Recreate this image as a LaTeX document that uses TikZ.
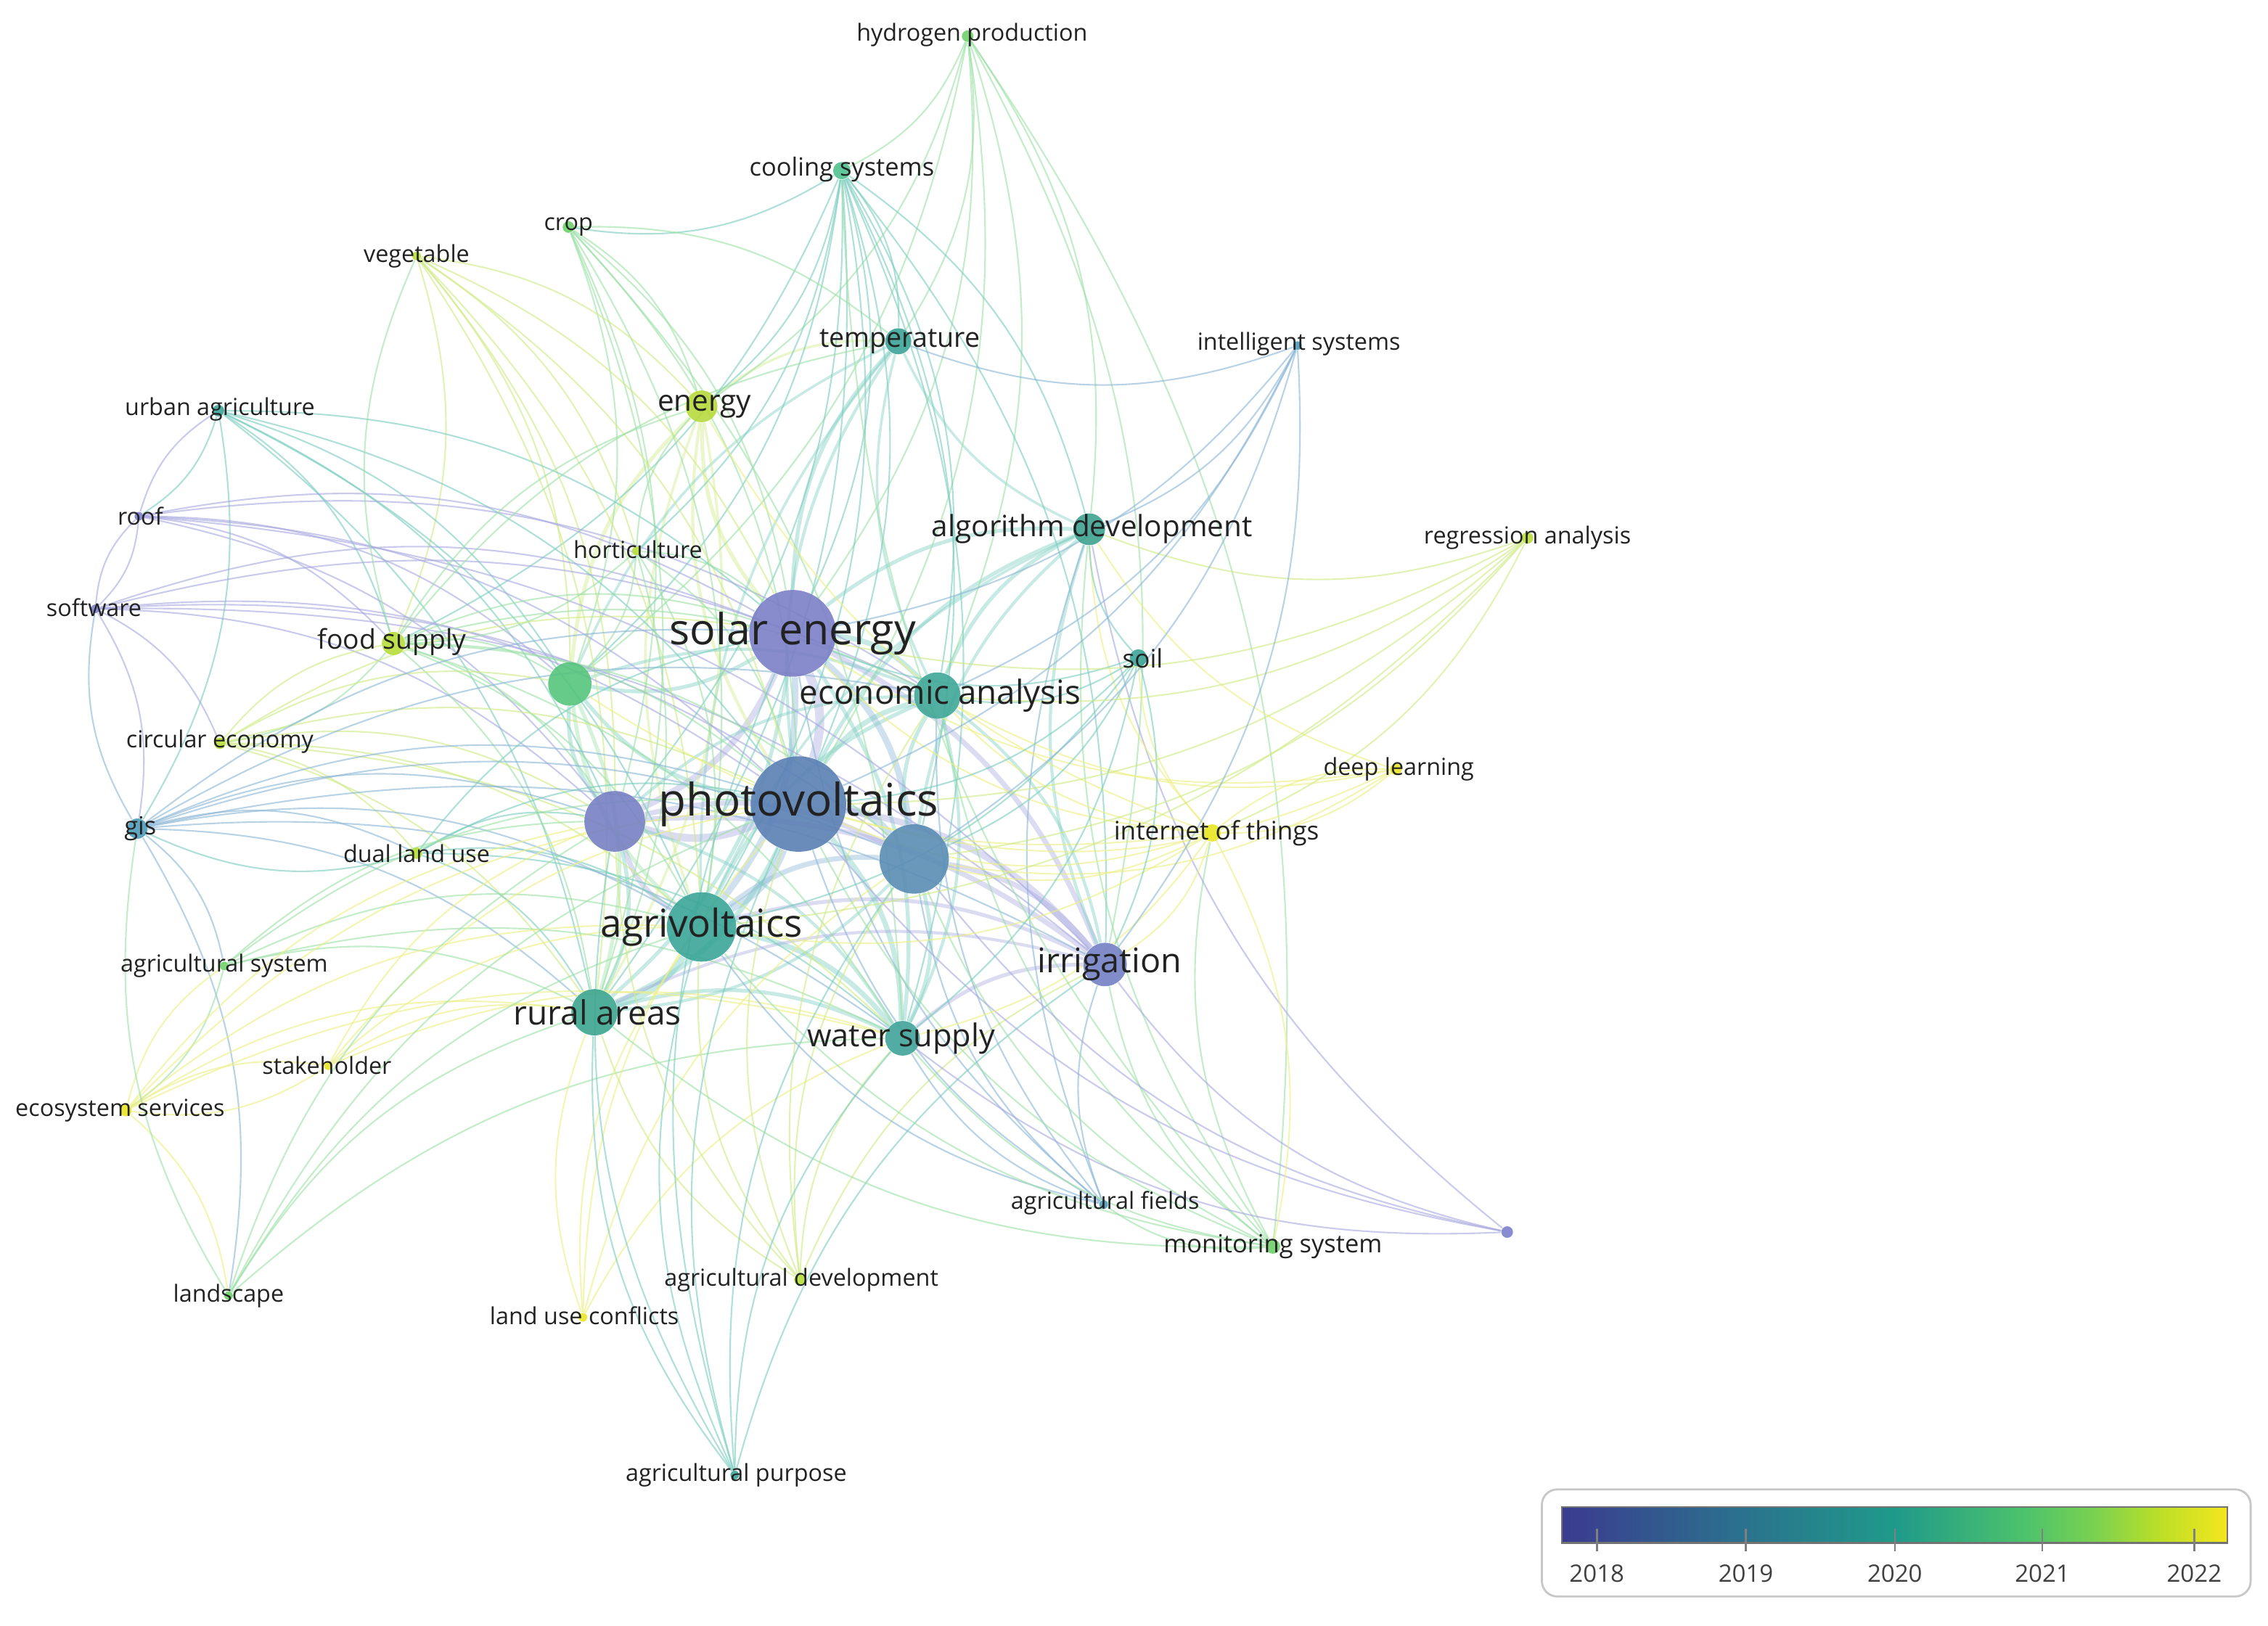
\documentclass[tikz,border=0pt]{standalone}
\usepackage{fontspec}
\setmainfont{Open Sans}
\usetikzlibrary{backgrounds}
% node colours
\definecolor{cse}{HTML}{7B7FC6}
\definecolor{cpv}{HTML}{5A80B4}
\definecolor{cul}{HTML}{7780C4}
\definecolor{cur}{HTML}{5A8DB4}
\definecolor{cav}{HTML}{3AA597}
\definecolor{cea}{HTML}{3FA798}
\definecolor{cra}{HTML}{3BA58F}
\definecolor{cws}{HTML}{3FA39A}
\definecolor{cir}{HTML}{7380C4}
\definecolor{cad}{HTML}{3DA28F}
\definecolor{cte}{HTML}{3BA396}
\definecolor{cen}{HTML}{B8D93E}
\definecolor{cug}{HTML}{55C47C}
\definecolor{ccs}{HTML}{50C08E}
\definecolor{cgr}{HTML}{6FCF6A}
\definecolor{cyg}{HTML}{B7DD3A}
\definecolor{cye}{HTML}{E8E624}
\definecolor{cbl}{HTML}{4F9BB8}
\definecolor{cpu}{HTML}{7C7FCC}
% edge colours
\definecolor{ePur}{HTML}{A9A9E0}
\definecolor{eBlue}{HTML}{8DB7D6}
\definecolor{eTeal}{HTML}{7CCDC0}
\definecolor{eGreen}{HTML}{9EE0A8}
\definecolor{eYG}{HTML}{D0EA88}
\definecolor{eYel}{HTML}{ECEF86}
\definecolor{labc}{HTML}{222222}
% legend
\definecolor{v0}{HTML}{3B3B8F}
\definecolor{v1}{HTML}{2C6E8E}
\definecolor{v2}{HTML}{1F9A8A}
\definecolor{v3}{HTML}{4EC36B}
\definecolor{v4}{HTML}{7AD151}
\definecolor{v5}{HTML}{BDDF26}
\definecolor{v6}{HTML}{F4E61E}
\pgfdeclarehorizontalshading{viridis}{100bp}{color(0bp)=(v0); color(25bp)=(v0); color(37.5bp)=(v1); color(50bp)=(v2); color(60bp)=(v3); color(65bp)=(v4); color(70bp)=(v5); color(75bp)=(v6); color(100bp)=(v6)}
\tikzset{
  dot/.style 2 args={circle, fill=#2, fill opacity=0.9, minimum size=#1*0.03986cm, inner sep=0pt, draw=none},
  lab/.style={text=labc, inner sep=0pt, font=\fontsize{#1pt}{#1pt}\selectfont},
  edge/.style={line width=0.6pt, draw opacity=0.62},
  coreedge/.style={draw opacity=0.42},
}
\begin{document}
\begin{tikzpicture}[x=0.019930cm, y=-0.019930cm]
\useasboundingbox (0,0) rectangle (1568,1124);
% ---------- circles ----------
\node[dot={30}{cse}] (se) at (548,438) {};
\node[dot={33}{cpv}] (pv) at (552,556) {};
\node[dot={24}{cav}] (av) at (485,641) {};
\node[dot={21}{cul}] (ul) at (425,568) {};
\node[dot={24}{cur}] (ur) at (632,594) {};
\node[dot={15}{cug}] (ug) at (394,473) {};
\node[dot={16}{cea}] (ea) at (648,481) {};
\node[dot={16}{cra}] (ra) at (411,700) {};
\node[dot={12}{cws}] (ws) at (624,718) {};
\node[dot={15}{cir}] (ir) at (764,667) {};
\node[dot={11}{cad}] (ad) at (753,366) {};
\node[dot={9}{cte}] (te) at (621,236) {};
\node[dot={11}{cen}] (en) at (485,281) {};
\node[dot={6}{ccs}] (cs) at (582,118) {};
\node[dot={4}{cgr}] (hp) at (669,25) {};
\node[dot={4}{cgr}] (cr) at (393,157) {};
\node[dot={3}{cyg}] (ve) at (288,177) {};
\node[dot={4}{cte}] (ua) at (151,284) {};
\node[dot={3}{cpu}] (ro) at (96,357) {};
\node[dot={3}{cpu}] (sw) at (66,421) {};
\node[dot={3}{cyg}] (ho) at (440,381) {};
\node[dot={8}{cyg}] (fs) at (272,445) {};
\node[dot={4}{cyg}] (ce) at (152,514) {};
\node[dot={7}{cbl}] (gi) at (95,573) {};
\node[dot={4}{cyg}] (dl) at (288,590) {};
\node[dot={3}{cgr}] (as) at (155,668) {};
\node[dot={3}{cye}] (sh) at (227,737) {};
\node[dot={4}{cye}] (es) at (87,768) {};
\node[dot={3}{cgr}] (ls) at (158,896) {};
\node[dot={3}{cye}] (lc) at (403,911) {};
\node[dot={4}{cyg}] (adv) at (553,885) {};
\node[dot={3}{cte}] (ap) at (508,1020) {};
\node[dot={3}{cbl}] (af) at (763,833) {};
\node[dot={5}{cgr}] (ms) at (880,862) {};
\node[dot={4}{cpu}] (up) at (1042,852) {};
\node[dot={6}{cye}] (it) at (838,576) {};
\node[dot={4}{cye}] (dlr) at (965,532) {};
\node[dot={6}{cte}] (so) at (787,455) {};
\node[dot={4}{cyg}] (rg) at (1056,372) {};
\node[dot={3}{cbl}] (is) at (897,239) {};
% ---------- edges ----------
\begin{pgfonlayer}{background}
\foreach \a/\b/\c/\w in {se/pv/ePur/3.5, se/av/eBlue/2.5, se/ul/ePur/2.5, se/ur/eBlue/2.5, se/ug/eTeal/1.5,
  se/ea/eTeal/2, se/ra/eTeal/1.5, se/ws/eTeal/1.5, se/ir/ePur/2, se/ad/eTeal/1.5, se/te/eTeal/1.5, se/en/eYG/1.5,
  pv/av/eBlue/3, pv/ul/ePur/3, pv/ur/eBlue/3, pv/ug/eTeal/1.5, pv/ea/eTeal/2, pv/ra/eTeal/2, pv/ws/eTeal/2,
  pv/ir/ePur/2.5, pv/ad/eTeal/1.5, pv/te/eTeal/1.2, pv/en/eYG/1.2, av/ul/ePur/2, av/ur/eBlue/2, av/ra/eTeal/2.5,
  av/ws/eTeal/2, av/ug/eGreen/1.5, av/ea/eTeal/1.5, av/ir/ePur/1.5, av/ad/eTeal/1, av/te/eTeal/1, av/en/eYG/1,
  ul/ur/ePur/2, ul/ug/eTeal/1.5, ul/ra/eTeal/1.5, ul/ws/eTeal/1.2, ul/ir/ePur/2, ul/ea/eTeal/1.2, ur/ir/ePur/2,
  ur/ws/eTeal/1.5, ur/ea/eTeal/1.5, ur/ra/eTeal/1.2, ur/ad/eTeal/1.2, ug/ra/eGreen/1.5, ug/ea/eTeal/1.2,
  ug/en/eYG/1.5, ug/te/eTeal/1, ea/ad/eTeal/1.5, ea/ir/eTeal/1.2, ea/ws/eTeal/1.2, ea/te/eTeal/1, ra/ws/eTeal/1.5,
  ra/ir/ePur/1.2, ws/ir/ePur/1.5, ir/ad/eTeal/1.2, ad/te/eTeal/1, en/te/eYG/1, en/ra/eYG/1}
  {\draw[coreedge, draw=\c, line width=\w pt] (\a) to[bend left=20] (\b);}
\foreach \s/\c/\lst in {
  hp/eGreen/{cs,te,se,pv,ea,ad,ug,en,ir,ms},
  cs/eTeal/{se,pv,av,te,en,ea,ad,ug,ul,ur,ws,ir,ra,ho,cr,fs},
  cr/eGreen/{en,se,pv,av,ug,ra,ws,te,ul},
  ve/eYG/{en,ug,fs,av,ra,pv,se,ho,ul},
  ua/eTeal/{ro,gi,fs,ug,se,pv,av,ra,ul},
  ro/ePur/{sw,ua,se,pv,ul,ug,ea,fs,ir},
  sw/ePur/{ro,gi,se,pv,ul,ur,ea,ce,ir},
  ho/eGreen/{en,se,pv,av,ug,ra,fs},
  fs/eGreen/{en,ug,se,pv,av,ul,ra,ws,ea,te,ve,ce,ur},
  ce/eYG/{fs,ug,av,pv,se,ul,ra,dl,ws},
  gi/eBlue/{sw,se,pv,ul,av,ra,ea,ur,ws,ir,dl,as,ls},
  dl/eTeal/{pv,ul,av,ra,se,gi,ws},
  as/eGreen/{av,ra,pv,ul,ws,es},
  sh/eYel/{av,ra,pv,es,ws,ul},
  es/eYel/{as,sh,ra,av,pv,ws,ls,ul},
  ls/eGreen/{gi,ra,av,pv,ws,ul},
  lc/eYel/{ra,av,pv,ws,ur},
  adv/eYG/{av,ra,pv,ws,ur,ir,ea,ul},
  ap/eTeal/{av,ra,pv,ws,se,ur,ul,ir},
  af/eBlue/{ir,ws,pv,ur,av,ea,ad,se},
  ms/eGreen/{ir,ws,pv,ur,av,ea,ad,it,cs,af,ra},
  up/ePur/{ad,ir,pv,ur,ws},
  it/eYel/{pv,ur,se,ea,ad,ir,ws,av,so,dlr,ms,ug,en},
  dlr/eYel/{it,ad,pv,se,ea,ur},
  so/eTeal/{ea,se,pv,ad,ir,ur,ws,av},
  rg/eYG/{ad,se,pv,ea,av,ur,it},
  is/eBlue/{ad,se,pv,ea,ir,ur,te}}
  {\foreach \t in \lst {\draw[edge, draw=\c] (\s) to[bend left=20] (\t);}}
\end{pgfonlayer}
% ---------- labels ----------
\node[lab=16.8] (lse) at (se) {solar energy};
\node[lab=17.6] (lpv) at (pv) {photovoltaics};
\node[lab=15.1] (lav) at (av) {agrivoltaics};
\node[lab=13] (lea) at (650,481) {economic analysis};
\node[lab=13.1] (lra) at (413,700) {rural areas};
\node[lab=12.3] (lws) at (623,718) {water supply};
\node[lab=13.3] (lir) at (767,667) {irrigation};
\node[lab=11.5] (lad) at (755,366) {algorithm development};
\node[lab=10.7] (lte) at (622,236) {temperature};
\node[lab=11.5] (len) at (487,281) {energy};
\node[lab=9.8] (lcs) at (582,117) {cooling systems};
\node[lab=9.2] (lhp) at (672,24) {hydrogen production};
\node[lab=9.2] (lcr) at (393,157) {crop};
\node[lab=9.2] (lve) at (288,177) {vegetable};
\node[lab=9.2] (lua) at (152,283) {urban agriculture};
\node[lab=9.2] (lro) at (97,357) {roof};
\node[lab=9.2] (lsw) at (65,420) {software};
\node[lab=9.2] (lho) at (441,380) {horticulture};
\node[lab=10.6] (lfs) at (271,444) {food supply};
\node[lab=9.2] (lce) at (152,513) {circular economy};
\node[lab=9.8] (lgi) at (97,573) {gis};
\node[lab=9.2] (ldl) at (288,590) {dual land use};
\node[lab=9.2] (las) at (155,668) {agricultural system};
\node[lab=9.2] (lsh) at (226,737) {stakeholder};
\node[lab=9.2] (les) at (83,768) {ecosystem services};
\node[lab=9.2] (lls) at (158,896) {landscape};
\node[lab=9.2] (llc) at (404,910) {land use conflicts};
\node[lab=9.2] (ladv) at (554,885) {agricultural development};
\node[lab=9.2] (lap) at (509,1020) {agricultural purpose};
\node[lab=9.2] (laf) at (764,832) {agricultural fields};
\node[lab=9.8] (lms) at (880,862) {monitoring system};
\node[lab=10] (lit) at (841,576) {internet of things};
\node[lab=9.2] (ldlr) at (967,532) {deep learning};
\node[lab=10] (lso) at (790,455) {soil};
\node[lab=9.2] (lrg) at (1056,372) {regression analysis};
\node[lab=9.2] (lis) at (898,238) {intelligent systems};
% ---------- legend ----------
\draw[draw=black!22, line width=0.8pt, rounded corners=6pt] (1066,1030) rectangle (1556,1104);
\shade[shading=viridis, draw=black!55, line width=0.6pt] (1080,1042) rectangle (1540,1067);
\foreach \x/\y in {1104/2018, 1207/2019, 1310/2020, 1412/2021, 1517/2022} {
  \draw[black!50, line width=0.7pt] (\x,1057) -- (\x,1073);
  \node[text=black!75, font=\fontsize{9.4pt}{9.4pt}\selectfont, inner sep=0pt] (y\y) at (\x,1088) {\y};
}
\end{tikzpicture}
\end{document}
